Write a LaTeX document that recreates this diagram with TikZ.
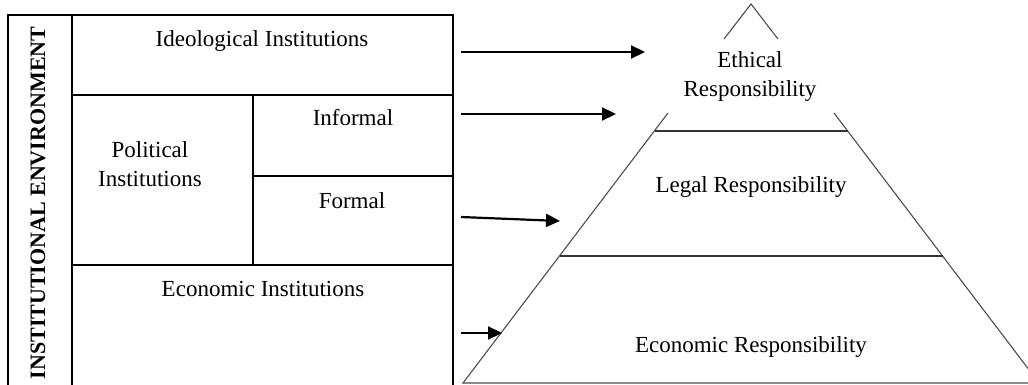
\documentclass[tikz,border=0pt]{standalone}
\usepackage{fontspec}
\setmainfont{Liberation Serif}
\usetikzlibrary{arrows.meta}
\tikzset{
  tbl/.style={line width=1.6pt, black},
  pyr/.style={line width=1.1pt, black!70},
  rung/.style={line width=1.6pt, black!80},
  arr/.style={line width=2.2pt, -{Triangle[length=14pt,width=13pt]}},
  lbl/.style={font=\fontsize{23}{29}\selectfont, anchor=base, align=center, inner sep=0pt}
}
\begin{document}
\begin{tikzpicture}[x=1pt,y=-1pt]
\useasboundingbox (0,0) rectangle (1028,385);
\clip (0,0) rectangle (1028,385);

%table
\draw[tbl] (8,392) -- (8,15) -- (453,15) -- (453,392);
\draw[tbl] (72,15) -- (72,392);
\draw[tbl] (72,95) -- (453,95);
\draw[tbl] (72,265) -- (453,265);
\draw[tbl] (253,95) -- (253,265);
\draw[tbl] (253,176) -- (453,176);

\node[font=\fontsize{22}{26}\selectfont\bfseries, rotate=90, inner sep=0pt] (env) at (38,203) {INSTITUTIONAL ENVIRONMENT};
\node[lbl] (ideo) at (262,47) {Ideological Institutions};
\node[lbl] (pol) at (150,186) {Political\\Institutions};
\node[lbl] (inf) at (353,126) {Informal};
\node[lbl] (form) at (352,208) {Formal};
\node[lbl] (econ) at (263,296) {Economic Institutions};

%pyramid
\draw[pyr] (724,39) -- (751,4) -- (778,39);
\draw[pyr] (668,113) -- (463,383) -- (1039,383) -- (834,113);
\draw[rung] (654.5,131) -- (847.5,131);
\draw[rung] (559.5,256) -- (942.5,256);

\node[lbl] (eth) at (750,97) {Ethical\\Responsibility};
\node[lbl] (leg) at (751,192) {Legal Responsibility};
\node[lbl] (ecr) at (751,352) {Economic Responsibility};

%arrows
\coordinate (a1) at (461,52);   \coordinate (b1) at (645,52);
\coordinate (a2) at (461,114);  \coordinate (b2) at (616,114);
\coordinate (a3) at (461,217);  \coordinate (b3) at (560,221);
\coordinate (a4) at (461,333);  \coordinate (b4) at (502,333);
\foreach \i in {1,...,4}
  \draw[arr] (a\i) -- (b\i);

\end{tikzpicture}
\end{document}
